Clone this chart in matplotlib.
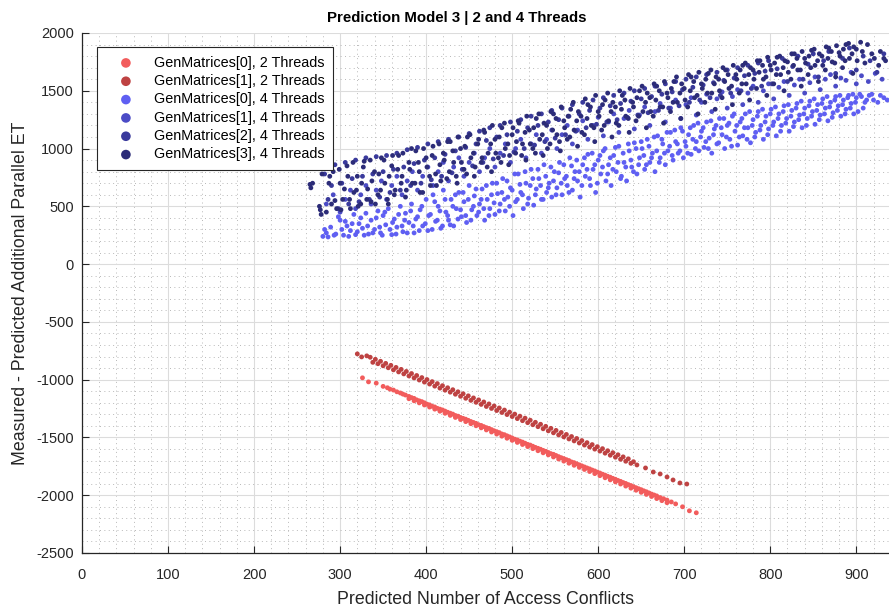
import matplotlib
matplotlib.use("Agg")
import matplotlib.pyplot as plt
from matplotlib.ticker import MultipleLocator

plt.rcParams['font.family'] = ['Liberation Sans', 'DejaVu Sans']
plt.rcParams['axes.unicode_minus'] = False

labels = ["GenMatrices[0], 2 Threads", "GenMatrices[1], 2 Threads",
          "GenMatrices[0], 4 Threads", "GenMatrices[1], 4 Threads",
          "GenMatrices[2], 4 Threads", "GenMatrices[3], 4 Threads"]
colors = ['#f25c5c', '#be4242', '#5f5ff2', '#4b4bc6', '#3a3a9c', '#2c2c78']

red0 = [(326,-984),(333,-1019),(342,-1030),(350,-1058),(355,-1070),(358,-1082),(362,-1090),(366,-1105),
 (370,-1115),(373,-1125),(376,-1133),(380,-1145),(383,-1155),(386,-1162),(389,-1175),(392,-1183),
 (395,-1190),(398,-1200),(401,-1212),(404,-1218),(407,-1230),(410,-1236),(413,-1248),(416,-1255),
 (419,-1262),(422,-1272),(425,-1282),(428,-1290),(431,-1298),(434,-1310),(437,-1316),(440,-1327),
 (443,-1335),(446,-1342),(449,-1352),(452,-1362),(455,-1370),(458,-1378),(461,-1390),(464,-1396),
 (467,-1406),(470,-1415),(473,-1422),(476,-1432),(479,-1442),(482,-1450),(485,-1458),(488,-1470),
 (491,-1476),(494,-1486),(497,-1495),(500,-1505),(503,-1515),(506,-1522),(509,-1532),(512,-1540),
 (515,-1550),(518,-1560),(521,-1566),(524,-1576),(527,-1586),(530,-1594),(533,-1602),(536,-1612),
 (539,-1620),(542,-1630),(545,-1640),(548,-1646),(551,-1656),(554,-1666),(557,-1675),(560,-1683),
 (563,-1692),(566,-1700),(569,-1712),(572,-1718),(575,-1728),(578,-1737),(581,-1746),(584,-1755),
 (587,-1764),(590,-1772),(593,-1782),(596,-1790),(599,-1800),(602,-1808),(605,-1818),(608,-1826),
 (611,-1836),(614,-1844),(617,-1854),(620,-1862),(623,-1872),(626,-1880),(629,-1890),(632,-1898),
 (635,-1908),(638,-1916),(641,-1926),(644,-1935),(647,-1944),(650,-1952),(653,-1962),(656,-1970),
 (659,-1980),(662,-1990),(665,-1998),(668,-2006),(672,-2020),(676,-2030),(680,-2042),(685,-2058),
 (690,-2075),(698,-2100),(706,-2135),(714,-2152)]

red0_more = [(380,-1165),(386,-1183),(392,-1201),(398,-1219),(404,-1237),(410,-1255),(416,-1273),
 (422,-1291),(428,-1309),(434,-1327),(440,-1345),(446,-1363),(452,-1381),(458,-1399),(464,-1417),
 (470,-1435),(476,-1453),(482,-1471),(488,-1489),(494,-1507),(500,-1525),(506,-1543),(512,-1561),
 (518,-1579),(524,-1597),(530,-1615),(536,-1633),(542,-1651),(548,-1669),(554,-1687),(560,-1705),
 (566,-1723),(572,-1741),(578,-1759),(584,-1777),(590,-1795),(596,-1813),(602,-1831),(608,-1849),
 (614,-1867),(620,-1885),(626,-1903),(632,-1921),(638,-1939),(644,-1957),(650,-1975),(656,-1993),
 (662,-2011),(668,-2029),(674,-2047),(680,-2065)]

red1 = [(320,-777),(325,-803),(331,-794),(335,-806),(338,-850),(341,-824),(344,-862),(347,-841),
 (350,-880),(353,-859),(356,-897),(359,-876),(362,-915),(365,-894),(368,-933),(371,-911),(374,-950),
 (377,-929),(380,-968),(383,-947),(386,-985),(389,-964),(392,-1003),(395,-982),(398,-1021),(401,-999),
 (404,-1038),(407,-1017),(410,-1056),(413,-1034),(416,-1073),(419,-1052),(422,-1091),(425,-1070),
 (428,-1108),(431,-1087),(434,-1126),(437,-1105),(440,-1144),(443,-1122),(446,-1161),(449,-1140),
 (452,-1179),(455,-1158),(458,-1196),(461,-1175),(464,-1214),(467,-1193),(470,-1232),(473,-1210),
 (476,-1249),(479,-1228),(482,-1267),(485,-1245),(488,-1284),(491,-1263),(494,-1302),(497,-1281),
 (500,-1319),(503,-1298),(506,-1337),(509,-1316),(512,-1355),(515,-1333),(518,-1372),(521,-1351),
 (524,-1390),(527,-1369),(530,-1407),(533,-1386),(536,-1425),(539,-1404),(542,-1443),(545,-1421),
 (548,-1460),(551,-1439),(554,-1478),(557,-1457),(560,-1495),(563,-1474),(566,-1513),(569,-1492),
 (572,-1530),(575,-1509),(578,-1548),(581,-1527),(584,-1566),(587,-1545),(590,-1583),(593,-1562),
 (596,-1601),(599,-1580),(602,-1618),(605,-1597),(608,-1636),(611,-1615),(614,-1654),(617,-1632),
 (620,-1671),(623,-1650),(626,-1689),(629,-1668),(632,-1706),(635,-1685),(638,-1724),(641,-1710),
 (645,-1738),(655,-1764),(664,-1799),(672,-1816),(680,-1842),(687,-1868),(695,-1894),(703,-1903)]

blue0 = [(280,240),(282,300),(286,235),(295,260),(298,410),(300,380),(304,250),(308,330),(312,290),
 (316,430),(318,255),(322,350),(326,310),(330,440),(333,260),(336,380),(340,300),(344,460),(347,270),
 (350,420),(353,340),(356,480),(360,255),(363,390),(366,320),(370,500),(373,280),(376,440),(380,360),
 (383,520),(386,270),(390,410),(393,470),(396,330),(400,560),(402,290),(405,430),(408,600),(411,370),
 (414,500),(417,310),(420,640),(423,450),(426,380),(429,560),(432,330),(435,480),(438,620),(441,410),
 (444,540),(447,360),(450,680),(453,470),(456,590),(459,420),(462,520),(465,650),(468,380),(471,560),
 (474,480),(477,700),(480,430),(483,610),(486,520),(489,740),(492,460),(495,580),(498,660),(501,420),
 (504,540),(507,780),(510,620),(513,480),(516,700),(519,570),(522,820),(525,510),(528,650),(531,740),
 (534,560),(537,860),(540,620),(543,700),(546,580),(549,800),(552,660),(555,880),(558,600),(561,740),
 (564,680),(567,920),(570,640),(573,800),(576,720),(579,580),(582,860),(585,760),(588,950),(591,680),
 (594,820),(597,620),(600,900),(603,780),(606,980),(609,720),(612,860),(615,680),(618,940),(621,800),
 (624,1020),(627,760),(630,880),(633,720),(636,980),(639,840),(642,1050),(645,780),(648,920),(651,1000),
 (654,820),(657,1080),(660,880),(663,960),(666,800),(669,1110),(672,920),(675,1040),(678,860),(681,980),
 (684,1140),(687,900),(690,1060),(693,960),(696,1180),(699,920),(702,1020),(705,1120),(708,950),
 (711,1200),(714,1060),(717,980),(720,1150),(723,1010),(726,1230),(729,1090),(732,960),(735,1170),
 (738,1040),(741,1260),(744,1120),(747,1000),(750,1200),(753,1080),(756,1280),(759,1150),(762,1030),
 (765,1230),(768,1110),(771,1300),(774,1180),(777,1050),(780,1250),(783,1140),(786,1320),(789,1200),
 (792,1080),(795,1280),(798,1170),(801,1340),(804,1230),(807,1110),(810,1300),(813,1200),(816,1370),
 (819,1260),(822,1150),(825,1330),(828,1230),(831,1390),(834,1290),(837,1180),(840,1350),(843,1260),
 (846,1410),(849,1320),(852,1210),(855,1380),(858,1290),(861,1430),(864,1350),(867,1240),(870,1400),
 (873,1310),(876,1450),(879,1370),(882,1280),(885,1420),(888,1340),(891,1460),(894,1390),(897,1300),
 (900,1440),(904,1470),(908,1350),(912,1420),(918,1470),(925,1400),(932,1440),(936,1420)]

blue0_more = [(284,270),(289,320),(293,250),(302,300),(306,370),(310,240),(314,350),(320,280),(324,400),
 (328,250),(332,330),(338,270),(342,400),(346,320),(349,250),(352,450),(358,300),(361,360),(365,260),
 (368,430),(372,330),(375,380),(378,270),(382,460),(385,330),(388,390),(392,290),(395,500),(399,350),
 (403,420),(407,300),(410,540),(413,380),(416,460),(419,330),(422,560),(425,420),(428,340),(431,500),
 (434,600),(437,390),(440,470),(443,620),(446,420),(449,560),(452,380),(455,500),(458,650),(461,450),
 (464,560),(467,480),(470,680),(473,420),(476,600),(479,530),(482,700),(485,460),(488,620),(491,560),
 (494,720),(497,500),(500,640),(503,780),(506,560),(509,690),(512,600),(515,800),(518,520),(521,680),
 (524,740),(527,600),(530,820),(533,680),(536,560),(539,760),(542,660),(545,840),(548,720),(551,600),
 (554,790),(557,700),(560,860),(563,760),(566,620),(569,850),(572,740),(575,900),(578,800),(581,680),
 (584,920),(587,820),(590,740),(593,960),(596,860),(599,700),(602,940),(605,840),(608,1000),(611,780),
 (614,920),(617,820),(620,1010),(623,880),(626,740),(629,960),(632,840),(635,1040),(638,900),(641,800),
 (644,1000),(647,860),(650,1060),(653,940),(656,860),(659,1020),(662,920),(665,1100),(668,980),
 (671,880),(674,1080),(677,960),(680,1140),(683,1020),(686,940),(689,1160),(692,1040),(695,980),
 (698,1150),(701,1060),(704,960),(707,1180),(710,1080),(713,1000),(716,1220),(719,1100),(722,1180),
 (725,1060),(728,1000),(731,1240),(734,1120),(737,1200),(740,1050),(743,1180),(746,1260),(749,1100),
 (752,1220),(755,1020),(758,1300),(761,1200),(764,1100),(767,1260),(770,1180),(773,1080),(776,1320),
 (779,1200),(782,1100),(785,1280),(788,1160),(791,1340),(794,1230),(797,1120),(800,1300),(803,1200),
 (806,1360),(809,1260),(812,1150),(815,1320),(818,1220),(821,1380),(824,1280),(827,1190),(830,1350),
 (833,1250),(836,1410),(839,1300),(842,1200),(845,1370),(848,1280),(851,1430),(854,1330),(857,1250),
 (860,1390),(863,1300),(866,1450),(869,1360),(872,1270),(875,1420),(878,1330),(881,1460),(884,1380),
 (887,1300),(890,1440),(893,1350),(896,1470),(899,1400),(902,1320),(906,1450),(910,1400),(915,1460),
 (920,1420),(928,1460)]

blue1 = [(284,520),(292,600),(300,450),(306,560),(312,640),(318,480),(324,600),(330,680),(336,520),
 (342,640),(348,720),(354,560),(360,680),(366,760),(372,600),(378,720),(384,800),(390,640),(396,760),
 (402,840),(408,680),(414,800),(420,880),(426,720),(432,840),(438,920),(444,760),(450,880),(456,960),
 (462,800),(468,920),(474,1000),(480,840),(486,960),(492,1040),(498,880),(504,1000),(510,1080),
 (516,920),(522,1040),(528,1120),(534,960),(540,1080),(546,1160),(552,1000),(558,1120),(564,1200),
 (570,1040),(576,1160),(582,1240),(588,1080),(594,1200),(600,1270),(606,1110),(612,1230),(618,1300),
 (624,1140),(630,1260),(636,1330),(642,1170),(648,1290),(654,1360),(660,1200),(666,1320),(672,1390),
 (678,1230),(684,1350),(690,1420),(696,1260),(702,1380),(708,1440),(714,1290),(720,1400),(726,1470),
 (732,1320),(738,1430),(744,1490),(750,1350),(756,1450),(762,1510),(768,1380),(774,1480),(780,1540),
 (786,1400),(792,1500),(798,1560),(804,1430),(810,1530),(816,1580),(822,1460),(828,1550),(834,1600),
 (840,1480),(846,1570),(852,1620),(858,1510),(864,1600),(870,1640),(876,1540),(882,1610),(888,1590),
 (894,1660),(900,1560),(906,1630),(914,1580),(922,1650),(930,1600)]

blue2 = [(282,780),(286,560),(290,680),(294,860),(298,480),(302,700),(306,880),(310,520),(314,740),
 (318,900),(322,540),(326,760),(330,920),(334,560),(338,780),(342,930),(346,580),(350,800),(354,940),
 (358,620),(362,820),(366,960),(370,640),(374,840),(378,990),(382,680),(386,870),(390,1010),(394,700),
 (398,900),(402,1040),(406,730),(410,920),(414,1060),(418,760),(422,950),(426,1080),(430,790),(434,980),
 (438,1100),(442,820),(446,1010),(450,1130),(454,850),(458,1040),(462,1150),(466,880),(470,1070),
 (474,1180),(478,910),(482,1100),(486,1200),(490,940),(494,1120),(498,1230),(502,970),(506,1150),
 (510,1250),(514,1000),(518,1180),(522,1280),(526,1030),(530,1200),(534,1300),(538,1060),(542,1230),
 (546,1330),(550,1090),(554,1250),(558,1350),(562,1120),(566,1280),(570,1380),(574,1150),(578,1300),
 (582,1400),(586,1180),(590,1330),(594,1420),(598,1210),(602,1350),(606,1440),(610,1230),(614,1370),
 (618,1460),(622,1250),(626,1390),(630,1480),(634,1270),(638,1410),(642,1500),(646,1290),(650,1430),
 (654,1520),(658,1310),(662,1450),(666,1540),(670,1330),(674,1470),(678,1560),(682,1350),(686,1490),
 (690,1580),(694,1370),(698,1510),(702,1600),(706,1400),(710,1530),(714,1620),(718,1420),(722,1550),
 (726,1640),(730,1440),(734,1570),(738,1660),(742,1460),(746,1590),(750,1680),(754,1480),(758,1610),
 (762,1700),(766,1500),(770,1630),(774,1720),(778,1520),(782,1650),(786,1740),(790,1540),(794,1670),
 (798,1760),(802,1560),(808,1690),(814,1780),(820,1580),(826,1710),(832,1800),(838,1600),(844,1730),
 (850,1820),(856,1620),(862,1760),(868,1840),(876,1650),(884,1780),(892,1870),(900,1680),(908,1800),
 (916,1760),(924,1660),(932,1820)]

blue3 = [(265,690),(266,660),(277,470),(278,430),(288,760),(290,520),(296,480),(300,700),(303,560),
 (308,850),(312,480),(316,620),(320,760),(324,520),(328,890),(332,650),(336,540),(340,800),(344,600),
 (348,920),(352,700),(356,520),(360,850),(364,640),(368,940),(372,760),(376,580),(380,880),(384,700),
 (388,980),(392,800),(396,620),(400,920),(404,760),(408,1020),(412,680),(416,860),(420,960),(424,740),
 (428,1060),(432,880),(436,700),(440,1000),(444,820),(448,1100),(452,920),(456,760),(460,1040),
 (464,880),(468,1140),(472,960),(476,800),(480,1080),(484,920),(488,1180),(492,1000),(496,860),
 (500,1120),(504,960),(508,1220),(512,1040),(516,900),(520,1160),(524,1000),(528,1260),(532,1080),
 (536,940),(540,1200),(544,1040),(548,1300),(552,1120),(556,980),(560,1240),(564,1080),(568,1340),
 (572,1160),(576,1020),(580,1280),(584,1120),(588,1380),(592,1200),(596,1060),(600,1320),(604,1160),
 (608,1420),(612,1240),(616,1100),(620,1360),(624,1200),(628,1460),(632,1280),(636,1140),(640,1400),
 (644,1240),(648,1500),(652,1320),(656,1180),(660,1440),(664,1280),(668,1540),(672,1360),(676,1220),
 (680,1480),(684,1320),(688,1580),(692,1400),(696,1260),(700,1520),(704,1360),(708,1620),(712,1440),
 (716,1300),(720,1560),(724,1400),(728,1650),(732,1480),(736,1340),(740,1600),(744,1440),(748,1680),
 (752,1520),(756,1380),(760,1640),(764,1480),(768,1720),(772,1560),(776,1420),(780,1680),(784,1520),
 (788,1760),(792,1600),(796,1460),(800,1720),(804,1560),(808,1790),(812,1640),(816,1500),(820,1750),
 (824,1600),(828,1820),(832,1680),(836,1540),(840,1780),(844,1640),(848,1850),(852,1720),(856,1580),
 (860,1800),(864,1680),(868,1870),(872,1750),(876,1620),(880,1830),(884,1700),(888,1900),(892,1780),
 (896,1650),(900,1860),(905,1920),(910,1740),(918,1820),(926,1720),(932,1780)]

blue3_more = [(268,700),(276,500),(279,780),(284,450),(287,700),(292,800),(294,550),(299,820),(301,470),
 (305,650),(309,760),(311,560),(315,880),(319,640),(321,500),(325,700),(327,840),(331,560),(335,900),
 (337,720),(341,520),(345,780),(347,640),(351,900),(355,560),(357,760),(361,940),(363,600),(367,820),
 (371,700),(373,960),(377,640),(381,820),(383,1000),(387,700),(391,880),(393,620),(397,1000),(401,840),
 (405,680),(407,940),(411,780),(415,1040),(417,720),(421,900),(425,1060),(427,800),(431,980),(435,760),
 (437,1100),(441,880),(445,1020),(447,780),(451,1120),(455,960),(457,840),(461,1080),(465,920),
 (467,1160),(471,840),(475,1040),(477,1200),(481,960),(485,1100),(487,880),(491,1220),(495,1040),
 (497,940),(501,1180),(505,1060),(507,1240),(511,940),(515,1140),(517,1280),(521,1040),(525,1180),
 (527,960),(531,1300),(535,1120),(537,1220),(541,1000),(545,1320),(547,1160),(551,1260),(555,1060),
 (557,1360),(561,1180),(565,1280),(567,1100),(571,1400),(575,1240),(577,1320),(581,1140),(585,1430),
 (587,1260),(591,1360),(595,1180),(597,1460),(601,1280),(605,1380),(607,1200),(611,1480),(615,1320),
 (617,1400),(621,1220),(625,1500),(627,1340),(631,1420),(635,1260),(637,1520),(641,1360),(645,1440),
 (647,1280),(651,1540),(655,1400),(657,1480),(661,1320),(665,1560),(667,1420),(671,1500),(675,1360),
 (677,1580),(681,1440),(685,1520),(687,1400),(691,1620),(695,1480),(697,1560),(701,1420),(705,1640),
 (707,1500),(711,1580),(715,1460),(717,1660),(721,1520),(725,1600),(727,1480),(731,1680),(735,1560),
 (737,1620),(741,1500),(745,1700),(747,1580),(751,1640),(755,1540),(757,1720),(761,1600),(765,1680),
 (767,1560),(771,1740),(775,1640),(777,1700),(781,1600),(785,1760),(787,1660),(791,1720),(795,1620),
 (797,1790),(801,1680),(805,1740),(807,1640),(811,1800),(815,1700),(817,1760),(821,1660),(825,1820),
 (827,1720),(831,1780),(835,1680),(837,1840),(841,1740),(845,1800),(847,1700),(851,1860),(855,1760),
 (857,1820),(861,1720),(865,1880),(867,1780),(871,1840),(875,1740),(877,1890),(881,1800),(885,1860),
 (887,1760),(891,1910),(895,1820),(897,1880),(901,1760),(907,1840),(913,1900),(921,1780),(928,1840),
 (934,1760)]

series = [red0 + red0_more, red1, blue0 + blue0_more, blue1, blue2, blue3 + blue3_more]

xticks = list(range(0, 1000, 100))
yticks = list(range(-2500, 2001, 500))

fig = plt.figure(figsize=(8.89, 6.10), dpi=100)
ax = fig.add_axes([82/889, 57/610, 807/889, 520/610])

for pts, lab, col in zip(series, labels, colors):
    xs = [p[0] for p in pts]
    ys = [p[1] for p in pts]
    ax.scatter(xs, ys, s=12, color=col, label=lab, edgecolors='none', zorder=3)

ax.set_xlim(0, 938)
ax.set_ylim(-2500, 2000)
ax.set_xticks(xticks)
ax.set_yticks(yticks)
ax.xaxis.set_minor_locator(MultipleLocator(20))
ax.yaxis.set_minor_locator(MultipleLocator(100))
ax.grid(which='major', color='#dcdcdc', linewidth=0.8, linestyle='-', zorder=0)
ax.grid(which='minor', color='#b8b8b8', linewidth=0.7, linestyle=(0, (1, 3.5)), zorder=0)
ax.set_axisbelow(True)
ax.tick_params(which='major', direction='in', length=5, width=0.8, labelsize=10.5,
               colors='#262626', top=False, right=False)
ax.tick_params(axis='x', which='major', pad=10.5)
ax.tick_params(axis='y', which='major', pad=6)
ax.tick_params(which='minor', length=0)
for s in ['top', 'right']:
    ax.spines[s].set_visible(False)
for s in ['left', 'bottom']:
    ax.spines[s].set_color('#262626')
    ax.spines[s].set_linewidth(0.9)

ax.set_xlabel("Predicted Number of Access Conflicts", fontsize=12.8, color='#262626', labelpad=6.5)
ax.set_ylabel("Measured - Predicted Additional Parallel ET", fontsize=12.8, color='#262626', labelpad=5)
fig.text(457/889, 1 - 18/610, "Prediction Model 3 | 2 and 4 Threads", ha='center', va='center',
         fontsize=10.8, fontweight='bold')

leg = ax.legend(loc='upper left', bbox_to_anchor=(0.0186, 0.973), fontsize=10.4, markerscale=2.0,
                frameon=True, fancybox=False, edgecolor='#262626', framealpha=1,
                borderpad=0.6, labelspacing=0.3, handlelength=2.8, handletextpad=0.55,
                borderaxespad=0)
leg.get_frame().set_linewidth(0.8)

fig.savefig("out.png", dpi=100)
